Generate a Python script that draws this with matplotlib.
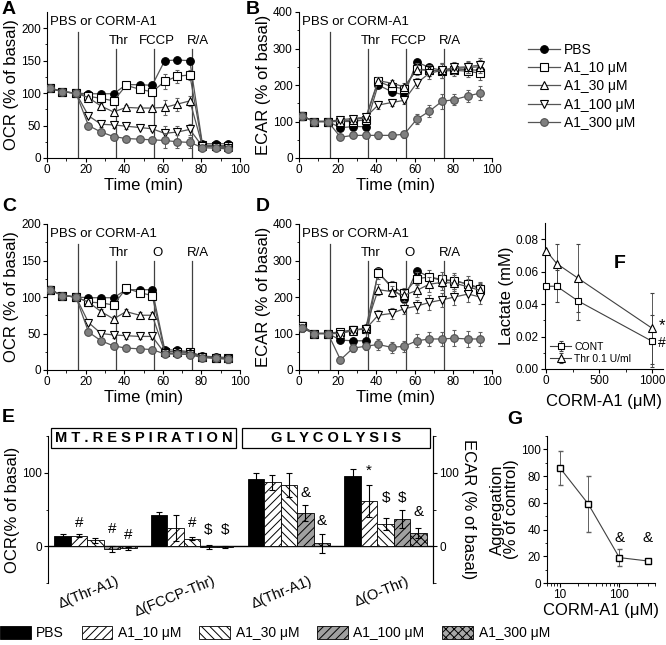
import matplotlib.pyplot as plt
import numpy as np
from matplotlib.patches import Patch, Rectangle
from matplotlib.lines import Line2D
from matplotlib.ticker import MultipleLocator, LogLocator, NullFormatter, FixedLocator

plt.rcParams['font.family'] = ['Liberation Sans', 'DejaVu Sans']
plt.rcParams['hatch.linewidth'] = 0.7
plt.rcParams['xtick.direction'] = 'out'
plt.rcParams['ytick.direction'] = 'out'

groups = ['PBS', 'A1_10 μM', 'A1_30 μM', 'A1_100 μM', 'A1_300 μM']
time_min = [1.5, 8, 15, 21.5, 28, 34.5, 41, 48, 54.5, 61, 67.5, 74, 80.5, 87.5, 94]

# A: OCR, FCCP protocol
a_pbs = [108, 102, 100, 99, 99, 99, 113, 113, 112, 150, 151, 150, 22, 22, 22]
a_10 = [108, 102, 100, 95, 92, 88, 112, 106, 102, 118, 126, 128, 20, 19, 19]
a_30 = [108, 102, 100, 93, 80, 71, 78, 77, 77, 78, 83, 88, 19, 18, 17]
a_100 = [108, 102, 100, 65, 52, 51, 49, 47, 45, 38, 40, 44, 18, 17, 16]
a_300 = [108, 102, 100, 50, 40, 33, 30, 29, 28, 27, 25, 24, 16, 15, 14]
a_err = [4, 3, 2, 3, 4, 4, 4, 3, 3, 12, 10, 8, 3, 3, 3]

# B: ECAR, FCCP protocol
b_pbs = [115, 100, 100, 83, 86, 86, 200, 182, 172, 263, 248, 240, 244, 242, 240]
b_10 = [115, 100, 100, 100, 100, 105, 210, 195, 190, 245, 240, 238, 240, 238, 232]
b_30 = [115, 100, 100, 100, 105, 110, 212, 205, 195, 242, 240, 240, 245, 248, 250]
b_100 = [115, 100, 100, 105, 108, 112, 145, 152, 158, 205, 232, 240, 248, 250, 255]
b_300 = [115, 100, 100, 57, 62, 62, 62, 62, 65, 106, 128, 155, 160, 170, 178]
b_err = [10, 6, 4, 7, 8, 8, 10, 10, 10, 14, 16, 20, 16, 16, 18]

# C: OCR, oligomycin protocol
c_pbs = [110, 102, 100, 99, 99, 99, 110, 110, 110, 28, 27, 25, 19, 18, 17]
c_10 = [110, 102, 100, 93, 92, 89, 112, 106, 102, 25, 25, 24, 18, 17, 16]
c_30 = [110, 102, 100, 93, 80, 70, 80, 75, 75, 25, 25, 24, 18, 17, 16]
c_100 = [110, 102, 100, 65, 50, 48, 47, 46, 46, 23, 22, 22, 18, 16, 15]
c_300 = [110, 102, 100, 52, 40, 33, 30, 29, 28, 22, 22, 21, 17, 16, 15]
c_err = [5, 3, 2, 3, 4, 4, 4, 4, 4, 4, 4, 4, 3, 4, 5]

# D: ECAR, oligomycin protocol
d_pbs = [115, 100, 100, 82, 80, 80, 270, 225, 195, 272, 255, 245, 245, 235, 225]
d_10 = [120, 100, 100, 105, 110, 112, 265, 230, 210, 250, 255, 248, 245, 235, 222]
d_30 = [120, 100, 100, 100, 108, 115, 220, 215, 205, 218, 235, 240, 238, 228, 218]
d_100 = [120, 100, 100, 100, 110, 112, 150, 155, 168, 175, 185, 192, 200, 208, 200]
d_300 = [115, 100, 100, 28, 60, 65, 70, 62, 65, 80, 85, 85, 87, 85, 85]
d_err = [12, 8, 4, 8, 10, 10, 15, 15, 15, 18, 20, 20, 22, 22, 20]

# E: bar chart
e_labels = ['Δ(Thr-A1)', 'Δ(FCCP-Thr)', 'Δ(Thr-A1)', 'Δ(O-Thr)']
e_pbs = [14, 42, 92, 95]
e_10 = [14, 25, 87, 62]
e_30 = [8, 10, 83, 30]
e_100 = [-4, -1, 45, 37]
e_300 = [-3, -1, 4, 18]
e_err_pbs = [2, 4, 8, 10]
e_err_10 = [2, 18, 10, 22]
e_err_30 = [3, 2, 16, 8]
e_err_100 = [4, 3, 11, 12]
e_err_300 = [2, 2, 13, 7]
e_marks = [['', '#', '', '#', '#'], ['', '', '#', '$', '$'],
           ['', '', '', '&', '&'], ['', '*', '$', '$', '&']]
e_mark_y = [[0, 32, 0, 24, 15], [0, 0, 31, 22, 22],
            [0, 0, 0, 73, 34], [0, 103, 65, 66, 46]]

# F: lactate
f_dose = [0, 100, 300, 1000]
f_cont = [0.051, 0.051, 0.042, 0.017]
f_cont_err = [0.0, 0.010, 0.012, 0.016]
f_thr = [0.073, 0.065, 0.056, 0.025]
f_thr_err = [0.0, 0.012, 0.021, 0.022]

# G: aggregation
g_dose = [10, 30, 100, 300]
g_aggr = [86, 59, 19, 16.5]
g_err = [13, 21, 6.5, 0]

markers = ['o', 's', '^', 'v', 'o']
faces = ['black', 'white', 'white', 'white', '#808080']
edges = ['black', 'black', 'black', 'black', '#505050']
line_c = '#555555'

fig = plt.figure(figsize=(6.66, 6.45), dpi=100)
W, H = 666.0, 645.0


def rect(x0, y0, x1, y1):
    return [x0 / W, 1 - y1 / H, (x1 - x0) / W, (y1 - y0) / H]


def style(ax):
    for s in ['top', 'right']:
        ax.spines[s].set_visible(False)
    ax.tick_params(labelsize=8.5, length=3, width=0.8, pad=1.5)
    ax.tick_params(which='minor', length=1.8, width=0.6)


def time_panel(ax, series, err, ytop, ystep, events, ylabel):
    for i, ys in enumerate(series):
        e = None if i == 0 else err
        ax.errorbar(time_min, ys, yerr=e, color=line_c, lw=0.9, elinewidth=0.7,
                    ecolor='#606060', capsize=1.5, marker=markers[i], ms=5.5,
                    mfc=faces[i], mec=edges[i], mew=0.8, zorder=3 + i * 0.1)
    for j, (x, lab) in enumerate(events):
        top = 0.865 if j == 0 else 0.75
        ax.axvline(x, 0, top, color='#404040', lw=0.9, zorder=1)
        if j == 0:
            ax.text(1.5, ytop * 0.93, lab, fontsize=9.5, va='center', ha='left')
        else:
            dx = [0, 1, 1.5, 3][j]
            ax.text(x + dx, ytop * 0.80, lab, fontsize=9.5, va='center', ha='center')
    ax.set_xlim(0, 100)
    ax.set_ylim(0, ytop)
    ax.xaxis.set_major_locator(MultipleLocator(20))
    ax.xaxis.set_minor_locator(MultipleLocator(10))
    ax.yaxis.set_major_locator(FixedLocator(np.arange(0, ytop + 1, ystep)))
    ax.yaxis.set_minor_locator(FixedLocator(np.arange(ystep / 2, ytop, ystep)))
    ax.set_xlabel('Time (min)', fontsize=12, labelpad=1)
    ax.set_ylabel(ylabel, fontsize=12, labelpad=1)
    style(ax)


ev_f = [(16, 'PBS or CORM-A1'), (36, 'Thr'), (55.5, 'FCCP'), (75, 'R/A')]
ev_o = [(16, 'PBS or CORM-A1'), (36, 'Thr'), (55.5, 'O'), (75, 'R/A')]

axA = fig.add_axes(rect(47, 12, 240, 158))
time_panel(axA, [a_pbs, a_10, a_30, a_100, a_300], a_err, 225, 50, ev_f, 'OCR (% of basal)')
axB = fig.add_axes(rect(299, 12, 492, 158))
time_panel(axB, [b_pbs, b_10, b_30, b_100, b_300], b_err, 400, 100, ev_f, 'ECAR (% of basal)')
axC = fig.add_axes(rect(47, 224, 240, 370))
time_panel(axC, [c_pbs, c_10, c_30, c_100, c_300], c_err, 200, 50, ev_o, 'OCR (% of basal)')
axD = fig.add_axes(rect(299, 224, 492, 370))
time_panel(axD, [d_pbs, d_10, d_30, d_100, d_300], d_err, 400, 100, ev_o, 'ECAR (% of basal)')

# legend for time courses
handles = [Line2D([], [], color=line_c, lw=0.9, marker=markers[i], ms=5.5,
                  mfc=faces[i], mec=edges[i], mew=0.8) for i in range(5)]
fig.legend(handles, groups, loc='upper left', bbox_to_anchor=(528 / W, 1 - 43 / H),
           frameon=False, fontsize=10, handlelength=2.3, handletextpad=0.3,
           labelspacing=0.3, borderpad=0, borderaxespad=0)

# F: lactate
axF = fig.add_axes(rect(545, 223, 663, 369))
axF.errorbar(f_dose, f_cont, yerr=f_cont_err, color='#404040', lw=0.8, marker='s',
             ms=5, mfc='white', mec='black', mew=0.8, capsize=1.5, elinewidth=0.6,
             label='CONT', clip_on=False, zorder=3)
axF.errorbar(f_dose, f_thr, yerr=f_thr_err, color='#404040', lw=0.8, marker='^',
             ms=5.5, mfc='white', mec='black', mew=0.8, capsize=1.5, elinewidth=0.6,
             label='Thr 0.1 U/ml', clip_on=False, zorder=3)
axF.set_xlim(-10, 1100)
axF.set_ylim(0, 0.09)
axF.xaxis.set_major_locator(FixedLocator([0, 500, 1000]))
axF.xaxis.set_minor_locator(FixedLocator([250, 750]))
axF.yaxis.set_major_locator(FixedLocator([0, 0.02, 0.04, 0.06, 0.08]))
axF.yaxis.set_minor_locator(FixedLocator([0.01, 0.03, 0.05, 0.07]))
axF.yaxis.set_major_formatter(plt.FormatStrFormatter('%.2f'))
axF.set_xlabel('CORM-A1 (μM)', fontsize=12, labelpad=5)
axF.set_ylabel('Lactate (mM)', fontsize=12, labelpad=1)
axF.text(1092, f_thr[-1] + 0.002, '*', fontsize=12, va='center', ha='center', clip_on=False)
axF.text(1092, f_cont[-1] - 0.001, '#', fontsize=10, va='center', ha='center', clip_on=False)
axF.legend(loc='lower left', frameon=False, fontsize=7.5, handlelength=2.0,
           handletextpad=0.3, labelspacing=0.2, borderpad=0.2, borderaxespad=0.3)
style(axF)

# G: aggregation
axG = fig.add_axes(rect(547, 436, 655, 583))
axG.errorbar(g_dose, g_aggr, yerr=g_err, color='#404040', lw=0.8, marker='s', ms=5,
             mfc='white', mec='black', mew=1.0, capsize=1.8, elinewidth=0.7, ecolor='#606060')
axG.set_xscale('log')
axG.set_xlim(6, 400)
axG.set_ylim(0, 110)
axG.xaxis.set_major_locator(LogLocator(base=10, numticks=5))
axG.xaxis.set_minor_locator(LogLocator(base=10, subs=np.arange(2, 10), numticks=10))
axG.xaxis.set_minor_formatter(NullFormatter())
axG.xaxis.set_major_formatter(plt.FuncFormatter(lambda v, p: '%d' % v))
axG.yaxis.set_major_locator(MultipleLocator(20))
axG.yaxis.set_minor_locator(MultipleLocator(10))
for x in g_dose[2:]:
    axG.text(x, 34, '&', fontsize=11, ha='center', va='center')
axG.set_xlabel('CORM-A1 (μM)', fontsize=12, labelpad=1)
axG.set_ylabel('Aggregation\n(% of control)', fontsize=12, labelpad=1, linespacing=1.0)
style(axG)

# E: bars
axE = fig.add_axes(rect(48, 436, 433, 583))
e_vals = [e_pbs, e_10, e_30, e_100, e_300]
e_errs = [e_err_pbs, e_err_10, e_err_30, e_err_100, e_err_300]
bar_face = ['black', 'white', 'white', '#a0a0a0', '#a8a8a8']
bar_hatch = [None, '////', '\\\\\\\\', '////', 'xxxx']
bw = 0.17
xg = np.arange(len(e_labels))
for i in range(5):
    axE.bar(xg + (i - 2) * bw, e_vals[i], bw, color=bar_face[i], hatch=bar_hatch[i],
            edgecolor='black', lw=0.6, yerr=e_errs[i], capsize=2,
            error_kw=dict(elinewidth=0.8, capthick=0.8, ecolor='black'), zorder=2)
for g in range(4):
    for i in range(5):
        if e_marks[g][i]:
            axE.text(g + (i - 2) * bw, e_mark_y[g][i], e_marks[g][i], fontsize=11,
                     ha='center', va='center')
axE.axhline(0, color='black', lw=1.0, zorder=1)
axE.set_xlim(-0.49, 3.49)
axE.set_ylim(-50, 150)
axE.set_xticks([])
axE.yaxis.set_major_locator(FixedLocator([0, 100]))
axE.yaxis.set_minor_locator(FixedLocator([-50, 50, 150]))
axE.spines['top'].set_visible(False)
axE.spines['bottom'].set_visible(False)
axE.tick_params(labelsize=8.5, length=3, width=0.8, pad=1.5)
axE.tick_params(which='minor', length=1.8, width=0.6)
axE.set_ylabel('OCR(% of basal)', fontsize=12, labelpad=1)
for g, lab in enumerate(e_labels):
    axE.text(g + 0.21, -38, lab, fontsize=10.5, rotation=22, ha='right', va='top',
             rotation_mode='anchor', clip_on=False)
axE2 = axE.twinx()
axE2.set_ylim(-50, 150)
axE2.yaxis.set_major_locator(FixedLocator([0, 100]))
axE2.yaxis.set_minor_locator(FixedLocator([-50, 50, 150]))
for s in ['top', 'bottom', 'left']:
    axE2.spines[s].set_visible(False)
axE2.tick_params(labelsize=8.5, length=3, width=0.8, pad=1.5)
axE2.tick_params(which='minor', length=1.8, width=0.6)
axE2.set_ylabel('ECAR (% of basal)', fontsize=12, rotation=-90, labelpad=12)

# header boxes
for (x0, x1, txt) in [(0.008, 0.488, 'M T . R E S P I R A T I O N'),
                      (0.504, 0.992, 'G L Y C O L Y S I S')]:
    axE.add_patch(Rectangle((x0, 0.918), x1 - x0, 0.136, transform=axE.transAxes,
                            fill=False, edgecolor='black', lw=0.9, clip_on=False))
    axE.text((x0 + x1) / 2, 0.986, txt, transform=axE.transAxes, fontsize=10.5,
             fontweight='bold', ha='center', va='center')

# bottom legend
patches = [Patch(facecolor=bar_face[i], hatch=bar_hatch[i], edgecolor='black', lw=0.6)
           for i in range(5)]
fig.legend(patches, groups, loc='lower left', bbox_to_anchor=(0.0, 5 / H), ncol=5,
           frameon=False, fontsize=10, handlelength=2.2, handleheight=1.1,
           handletextpad=0.4, columnspacing=1.3, borderpad=0, borderaxespad=0)

# panel letters
for lab, x, y in [('A', 2, 10), ('B', 246, 10), ('C', 2, 206), ('D', 256, 206),
                  ('E', 2, 418), ('F', 614, 264), ('G', 507, 420)]:
    fig.text(x / W, 1 - y / H, lab, fontsize=14, fontweight='bold', ha='left', va='center')

fig.savefig('out.png', dpi=100)
